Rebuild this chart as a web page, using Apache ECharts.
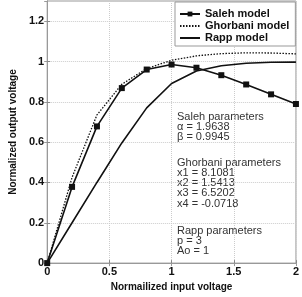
<!DOCTYPE html>
<html>
<head>
<meta charset="utf-8">
<script src="https://cdn.jsdelivr.net/npm/echarts@6/dist/echarts.min.js"></script>
<style>html,body{margin:0;padding:0;background:#fff;}#c{width:302px;height:297px;}</style>
</head>
<body>
<div id="c"></div>
<script>
var inputVoltage = [0, 0.2, 0.4, 0.6, 0.8, 1.0, 1.2, 1.4, 1.6, 1.8, 2.0];
var salehValues = [0, 0.378, 0.678, 0.868, 0.960, 0.985, 0.969, 0.932, 0.886, 0.837, 0.789];
var ghorbaniValues = [0, 0.425, 0.735, 0.887, 0.965, 1.006, 1.028, 1.039, 1.043, 1.042, 1.038];
var rappValues = [0, 0.200, 0.400, 0.596, 0.770, 0.891, 0.953, 0.979, 0.991, 0.996, 0.997];
var seriesNames = ['Saleh model', 'Ghorbani model', 'Rapp model'];
var salehParams = ['Saleh parameters', 'α = 1.9638', 'β = 0.9945'];
var ghorbaniParams = ['Ghorbani parameters', 'x1 = 8.1081', 'x2 = 1.5413', 'x3 = 6.5202', 'x4 = -0.0718'];
var rappParams = ['Rapp parameters', 'p = 3', 'Ao = 1'];

function pairs(ys) { return inputVoltage.map(function (x, i) { return [x, ys[i]]; }); }

var chart = echarts.init(document.getElementById('c'), null, {renderer: 'canvas'});
var font = 'Arial, "Liberation Sans", sans-serif';
var textStyleP = {fill: '#333', font: '11px ' + font, lineHeight: 10.3};
chart.setOption({
  animation: false,
  backgroundColor: '#fff',
  grid: {left: 34, right: 5, top: 1, bottom: 26, show: true, borderColor: '#999', borderWidth: 1},
  legend: {
    left: 175, top: 2, orient: 'vertical',
    itemWidth: 20, itemHeight: 6, itemGap: 0,
    padding: [6, 6, 2, 4],
    borderColor: '#999', borderWidth: 1, backgroundColor: '#fff',
    textStyle: {fontFamily: font, fontWeight: 'bold', fontSize: 11, color: '#111', lineHeight: 12, height: 12},
    data: [
      {name: seriesNames[0]},
      {name: seriesNames[1], itemStyle: {opacity: 0}},
      {name: seriesNames[2], itemStyle: {opacity: 0}}
    ]
  },
  xAxis: [{
    type: 'value', min: 0, max: 2, interval: 0.5,
    name: 'Normailized input voltage', nameLocation: 'middle', nameGap: 13,
    nameTextStyle: {fontFamily: font, fontWeight: 'bold', fontSize: 10, color: '#111'},
    axisLine: {lineStyle: {color: '#888'}},
    axisTick: {inside: true, length: 3, lineStyle: {color: '#888'}},
    axisLabel: {margin: 3, fontFamily: font, fontWeight: 'bold', fontSize: 11, color: '#111'},
    splitLine: {show: true, lineStyle: {color: '#ccc', type: 'dotted'}}
  }, {
    type: 'value', position: 'top', min: 0, max: 2, interval: 0.5,
    axisLine: {show: true, lineStyle: {color: '#999'}},
    axisTick: {inside: true, length: 3, lineStyle: {color: '#999'}},
    axisLabel: {show: false}, splitLine: {show: false}
  }],
  yAxis: [{
    type: 'value', min: 0, max: 1.3, interval: 0.2,
    name: 'Normalized output voltage', nameLocation: 'middle', nameGap: 19,
    nameTextStyle: {fontFamily: font, fontWeight: 'bold', fontSize: 10, color: '#111'},
    axisLine: {show: true, lineStyle: {color: '#888'}},
    axisTick: {show: true, inside: true, length: 3, lineStyle: {color: '#888'}},
    axisLabel: {margin: 3, showMaxLabel: false, fontFamily: font, fontWeight: 'bold', fontSize: 11, color: '#111',
      formatter: function (v) { return Math.abs(v - 1.3) < 1e-6 ? '' : String(+v.toFixed(1)); }},
    splitLine: {show: true, lineStyle: {color: '#ccc', type: 'dotted'}}
  }, {
    type: 'value', position: 'right', min: 0, max: 1.3, interval: 0.2,
    axisLine: {show: true, lineStyle: {color: '#999'}},
    axisTick: {show: true, inside: true, length: 3, lineStyle: {color: '#999'}},
    axisLabel: {show: false}, splitLine: {show: false}
  }],
  series: [{
    name: seriesNames[0], type: 'line', data: pairs(salehValues),
    symbol: 'rect', symbolSize: 6, showAllSymbol: true,
    itemStyle: {color: '#111'}, lineStyle: {color: '#111', width: 1.6}, z: 4
  }, {
    name: seriesNames[1], type: 'line', data: pairs(ghorbaniValues),
    symbol: 'none', itemStyle: {color: '#111'}, lineStyle: {color: '#111', width: 1.3, type: [1.5, 1.5]}, z: 3
  }, {
    name: seriesNames[2], type: 'line', data: pairs(rappValues),
    symbol: 'none', itemStyle: {color: '#111'}, lineStyle: {color: '#111', width: 1.6}, z: 3
  }],
  graphic: [
    {type: 'text', left: 177, top: 111, style: Object.assign({text: salehParams.join('\n')}, textStyleP)},
    {type: 'text', left: 177, top: 157, style: Object.assign({text: ghorbaniParams.join('\n')}, textStyleP)},
    {type: 'text', left: 177, top: 225, style: Object.assign({text: rappParams.join('\n')}, textStyleP)}
  ]
});
</script>
</body>
</html>
